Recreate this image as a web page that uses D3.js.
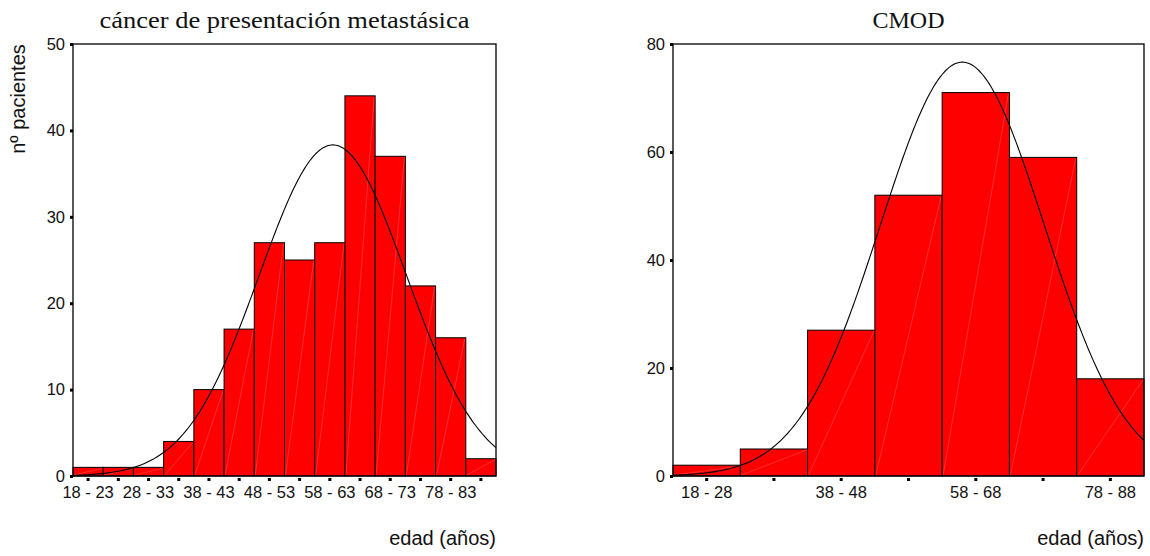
<!DOCTYPE html>
<html>
<head>
<meta charset="utf-8">
<script src="https://cdn.jsdelivr.net/npm/d3@7"></script>
<style>
  body { margin: 0; background: #fff; }
  svg { display: block; }
</style>
</head>
<body>
<div id="chart"></div>
<script>
// left panel: 5-year bins
const binsMeta = ["18 - 23","23 - 28","28 - 33","33 - 38","38 - 43","43 - 48","48 - 53","53 - 58","58 - 63","63 - 68","68 - 73","73 - 78","78 - 83","83 - 88"];
const countsMeta = [1, 1, 1, 4, 10, 17, 27, 25, 27, 44, 37, 22, 16, 2];
const yTicksMeta = [0, 10, 20, 30, 40, 50];

// right panel: 10-year bins
const binsCmod = ["18 - 28","28 - 38","38 - 48","48 - 58","58 - 68","68 - 78","78 - 88"];
const countsCmod = [2, 5, 27, 52, 71, 59, 18];
const yTicksCmod = [0, 20, 40, 60, 80];

// fitted normal curve
const ageMean = 61.0;
const ageSd = 12.18;
const ageMin = 18, ageMax = 88;

class Histogram {
    constructor(_config, _labels, _counts, _ticks) {
        this.config = {
            svg: _config.svg,
            left: _config.left,
            right: _config.right,
            top: _config.top || 44,
            bottom: _config.bottom || 476,
            yMax: _config.yMax,
            binWidth: _config.binWidth,
            title: _config.title,
            titleWidth: _config.titleWidth || null,
            yTitle: _config.yTitle || null,
            labelEvery: _config.labelEvery || 2
        }
        this.labels = _labels;
        this.counts = _counts;
        this.ticks = _ticks;
        this.initVis();
    }

    initVis() {
        let vis = this;
        let c = vis.config;
        let svg = c.svg;

        vis.x = d3.scaleLinear().domain([ageMin, ageMax]).range([c.left, c.right]);
        vis.y = d3.scaleLinear().domain([0, c.yMax]).range([c.bottom, c.top]);

        let g = svg.append("g");

        // bars
        let bars = g.selectAll(".bar")
            .data(vis.counts)
            .enter()
            .append("g");

        bars.append("rect")
            .attr("x", (d, i) => vis.x(ageMin + i * c.binWidth))
            .attr("y", d => vis.y(d))
            .attr("width", vis.x(ageMin + c.binWidth) - vis.x(ageMin))
            .attr("height", d => vis.y(0) - vis.y(d))
            .style("fill", "#ff0000")
            .style("stroke", "#000")
            .style("stroke-width", 1);

        // faint diagonal rendering lines inside the bars
        bars.append("line")
            .attr("x1", (d, i) => vis.x(ageMin + i * c.binWidth) + 1)
            .attr("y1", c.bottom - 1)
            .attr("x2", (d, i) => vis.x(ageMin + (i + 1) * c.binWidth) - 1)
            .attr("y2", d => vis.y(d) + 1)
            .style("stroke", "#ff9a9a")
            .style("stroke-width", 0.5)
            .style("opacity", 0.6);

        // normal curve
        let total = d3.sum(vis.counts);
        let pts = d3.range(ageMin, ageMax + 0.01, 0.25).map(a => {
            let z = (a - ageMean) / ageSd;
            return [a, total * c.binWidth * Math.exp(-0.5 * z * z) / (ageSd * Math.sqrt(2 * Math.PI))];
        });
        g.append("path")
            .datum(pts)
            .attr("d", d3.line().x(d => vis.x(d[0])).y(d => vis.y(d[1])))
            .style("fill", "none")
            .style("stroke", "#000")
            .style("stroke-width", 1.1);

        // frame
        g.append("rect")
            .attr("x", c.left)
            .attr("y", c.top)
            .attr("width", c.right - c.left)
            .attr("height", c.bottom - c.top)
            .style("fill", "none")
            .style("stroke", "#000")
            .style("stroke-width", 1.3);

        // y ticks
        let yAx = g.append("g");
        yAx.selectAll("rect")
            .data(vis.ticks)
            .enter()
            .append("rect")
            .attr("x", c.left - 3)
            .attr("y", d => vis.y(d) - 1)
            .attr("width", 3)
            .attr("height", 3)
            .style("fill", "#000");
        yAx.selectAll("text")
            .data(vis.ticks)
            .enter()
            .append("text")
            .attr("x", c.left - 8)
            .attr("y", d => vis.y(d))
            .attr("dy", "0.35em")
            .attr("text-anchor", "end")
            .style("font-family", "Liberation Sans, Arial, sans-serif")
            .style("font-size", "16.5px")
            .style("fill", "#111")
            .text(d => d);

        // x ticks at bin centres
        let xAx = g.append("g");
        xAx.selectAll("rect")
            .data(vis.labels)
            .enter()
            .append("rect")
            .attr("x", (d, i) => vis.x(ageMin + (i + 0.5) * c.binWidth) - 1.5)
            .attr("y", c.bottom + 2)
            .attr("width", 3)
            .attr("height", 3)
            .style("fill", "#000");
        xAx.selectAll("text")
            .data(vis.labels.filter((d, i) => i % c.labelEvery === 0))
            .enter()
            .append("text")
            .attr("x", (d, i) => vis.x(ageMin + (i * c.labelEvery + 0.5) * c.binWidth))
            .attr("y", c.bottom + 22)
            .attr("text-anchor", "middle")
            .style("font-family", "Liberation Sans, Arial, sans-serif")
            .style("font-size", "16.5px")
            .style("fill", "#111")
            .text(d => d);

        // x title
        g.append("text")
            .attr("x", c.right)
            .attr("y", 545)
            .attr("text-anchor", "end")
            .style("font-family", "Liberation Sans, Arial, sans-serif")
            .style("font-size", "20px")
            .style("fill", "#111")
            .text("edad (años)");

        // title
        let t = g.append("text")
            .attr("x", (c.left + c.right) / 2)
            .attr("y", 28)
            .attr("text-anchor", "middle")
            .style("font-family", "Liberation Serif, Times New Roman, serif")
            .style("font-size", "24px")
            .style("fill", "#111")
            .text(c.title);
        if (c.titleWidth) t.attr("textLength", c.titleWidth).attr("lengthAdjust", "spacingAndGlyphs");

        if (c.yTitle) {
            g.append("text")
                .attr("transform", "translate(25,99) rotate(-90)")
                .attr("text-anchor", "middle")
                .style("font-family", "Liberation Sans, Arial, sans-serif")
                .style("font-size", "20px")
                .style("fill", "#111")
                .text(c.yTitle);
        }
    }
}

const svg = d3.select("#chart").append("svg")
    .attr("width", 1150)
    .attr("height", 556);

new Histogram({svg: svg, left: 73, right: 496, yMax: 50, binWidth: 5,
    title: "cáncer de presentación metastásica", titleWidth: 370, yTitle: "nº pacientes"},
    binsMeta, countsMeta, yTicksMeta);

new Histogram({svg: svg, left: 673, right: 1144, yMax: 80, binWidth: 10,
    title: "CMOD"},
    binsCmod, countsCmod, yTicksCmod);
</script>
</body>
</html>
